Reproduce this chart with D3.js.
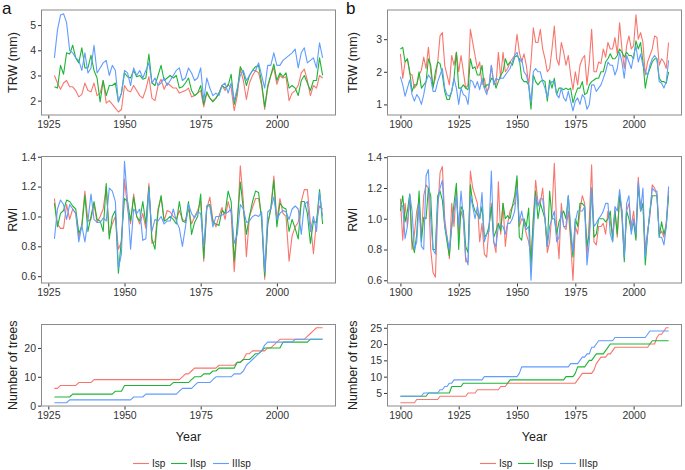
<!DOCTYPE html>
<html>
<head>
<meta charset="utf-8">
<script src="https://cdn.jsdelivr.net/npm/d3@7"></script>
<style>
  body { margin: 0; background: #fff; }
  svg { display: block; font-family: "Liberation Sans", Arial, sans-serif; }
  .tick text { fill: #333; font-size: 10.5px; }
  .tick line { stroke: #333; }
  .domain { display: none; }
</style>
</head>
<body>
<svg width="685" height="470"></svg>
<script>
// years
const yearsA = d3.range(1927, 2016);
const yearsB = d3.range(1900, 2016);

const seriesNames = ["Isp", "IIsp", "IIIsp"];
const seriesColors = ["#F8766D", "#1DB535", "#619CFF"];

// ---- site a ----
const trwA_I = [3.0, 2.7, 2.45, 2.7, 2.8, 2.55, 2.55, 2.4, 2.15, 2.25,
  2.7, 2.4, 2.35, 2.7, 2.2, 2.3, 2.8, 1.9, 2.0, 1.85,
  1.7, 1.55, 1.65, 2.6, 2.4, 2.35, 2.6, 2.4, 2.2, 2.1,
  2.45, 2.95, 2.1, 2.0, 2.6, 2.85, 2.45, 2.7, 2.6, 2.5,
  2.5, 2.3, 2.35, 2.4, 2.5, 2.15, 2.2, 2.3, 2.4, 1.75,
  2.3, 2.1, 2.0, 2.1, 2.3, 2.6, 2.4, 2.65, 2.5, 1.6,
  2.2, 3.25, 2.8, 2.05, 2.7, 3.0, 3.2, 3.1, 2.6, 1.65,
  2.5, 3.0, 3.3, 2.65, 3.0, 2.9, 2.95, 2.0, 2.3, 2.4,
  2.6, 3.1, 3.25, 2.8, 2.2, 2.6, 2.5, 3.0, 2.9];
const trwA_II = [2.55, 2.5, 3.4, 3.05, 3.9, 3.85, 4.2, 3.7, 3.5, 4.1,
  3.3, 3.3, 3.8, 3.2, 2.9, 1.95, 2.8, 2.2, 2.6, 2.6,
  2.7, 1.95, 2.3, 3.1, 2.95, 2.9, 3.2, 2.95, 3.0, 2.85,
  2.9, 3.85, 2.7, 2.6, 3.0, 3.4, 2.8, 2.9, 3.0, 2.9,
  3.0, 2.5, 2.55, 2.7, 2.9, 2.4, 2.2, 2.3, 2.6, 1.85,
  2.35, 2.1, 1.95, 2.1, 2.3, 2.6, 2.5, 2.6, 3.05, 1.85,
  2.4, 3.35, 3.1, 2.6, 3.0, 3.2, 3.35, 3.4, 2.7, 1.75,
  2.6, 3.0, 3.45, 2.8, 3.1, 2.95, 3.1, 2.5, 2.6, 2.5,
  2.2, 2.8, 3.0, 2.7, 2.4, 2.8, 2.8, 3.7, 3.0];
const trwA_III = [3.7, 4.8, 5.4, 5.45, 5.1, 4.0, 3.9, 3.7, 3.6, 3.2,
  3.9, 3.1, 3.3, 4.2, 3.1, 3.3, 3.5, 3.6, 3.0, 3.4,
  3.2, 1.95, 2.3, 3.2, 3.1, 2.6, 3.3, 3.0, 3.2, 2.9,
  3.2, 3.5, 2.7, 2.9, 2.6, 2.7, 2.9, 2.6, 2.8, 3.0,
  3.2, 3.3, 2.8, 2.9, 3.3, 3.1, 2.8, 2.9, 3.3, 2.0,
  2.9, 2.5, 2.2, 2.3, 2.2, 2.6, 2.7, 2.3, 2.7, 2.0,
  2.5, 3.0, 3.2, 2.8, 3.0, 3.2, 3.2, 3.5, 3.0, 2.5,
  3.4, 3.4, 3.9, 3.4, 3.4, 3.6, 3.7, 3.8, 3.9, 4.05,
  3.3, 3.9, 4.1, 3.5, 3.6, 3.7, 3.3, 4.3, 3.7];

const rwiA_I = [1.12, 0.95, 0.92, 0.92, 1.08, 0.98, 1.05, 1.02, 0.86, 0.95,
  1.17, 0.97, 0.98, 1.08, 0.96, 1.0, 1.05, 1.2, 0.88, 0.95,
  1.0, 0.78, 0.83, 1.25, 1.05, 0.95, 1.15, 1.0, 0.95, 1.02,
  0.92, 1.22, 0.82, 0.83, 1.05, 1.13, 0.97, 1.04, 1.03, 1.0,
  0.98, 1.04, 0.98, 0.97, 1.05, 0.95, 1.0, 1.04, 1.1, 0.7,
  1.05, 1.13, 0.98, 0.93, 1.0, 1.06, 0.98, 1.1, 1.02, 0.63,
  0.93, 1.34, 1.1, 0.73, 1.0, 1.06, 1.12, 1.12, 1.0, 0.58,
  0.95, 1.05, 1.27, 0.97, 1.12, 1.02, 1.0, 0.7, 0.87, 0.93,
  0.96, 1.1, 1.18, 1.18, 0.96, 0.75, 0.97, 1.07, 1.05];
const rwiA_II = [1.09, 0.93, 1.02, 1.04, 1.11, 1.1, 1.07, 1.05, 0.89, 0.93,
  1.14, 0.9, 1.0, 1.1, 0.98, 0.97, 0.9, 1.22, 0.85, 1.0,
  1.04, 0.62, 0.85, 1.12, 1.1, 0.97, 1.13, 1.0, 0.97, 1.1,
  0.95, 1.2, 0.85, 0.78, 1.03, 1.14, 0.97, 0.98, 1.0, 0.98,
  0.95, 1.1, 0.97, 0.96, 1.1, 0.88, 0.96, 1.0, 1.15, 0.72,
  1.07, 1.08, 0.96, 0.95, 0.94, 1.04, 1.02, 1.17, 1.1, 0.7,
  0.95, 1.23, 1.05, 0.88, 1.0, 1.1, 1.17, 1.16, 0.98, 0.6,
  0.95, 1.05, 1.24, 0.93, 1.09, 1.06, 1.05, 0.9, 0.98, 0.92,
  0.85, 1.1, 1.1, 1.02, 0.82, 0.97, 0.96, 1.18, 0.95];
const rwiA_III = [0.85, 1.05, 1.11, 1.08, 0.98, 1.08, 1.05, 1.02, 0.83, 0.94,
  0.83, 0.97, 1.15, 0.98, 0.96, 0.96, 0.99, 0.97, 1.19, 1.17,
  1.1, 0.65, 0.75, 1.37, 1.1, 0.78, 1.05, 1.02, 1.05, 0.84,
  0.85, 1.18, 0.9, 0.98, 0.97, 1.0, 0.95, 0.97, 0.97, 1.05,
  0.97, 0.92, 0.8, 0.93, 1.08, 1.02, 0.99, 1.03, 1.02, 0.8,
  1.07, 1.07, 0.93, 1.0, 1.0, 1.01, 1.02, 1.03, 1.05, 0.82,
  0.88, 1.08, 1.05, 0.96, 0.97, 1.0, 1.01, 1.0, 1.03, 0.63,
  1.03, 1.05, 1.13, 0.98, 1.02, 1.04, 1.03, 0.98, 1.05, 1.07,
  1.05, 0.88, 1.08, 1.1, 0.9, 1.0, 0.9, 1.16, 1.0];

const treesA_I = [6, 6, 7, 7, 7, 7, 7, 7, 8, 8,
  8, 8, 8, 9, 9, 9, 9, 9, 9, 9,
  9, 9, 9, 9, 9, 9, 9, 9, 9, 9,
  9, 9, 9, 9, 9, 9, 9, 9, 9, 9,
  9, 9, 10, 11, 11, 12, 13, 13, 13, 13,
  13, 13, 13, 13, 14, 14, 14, 14, 14, 14,
  15, 15, 16, 18, 18, 19, 19, 19, 19, 19,
  20, 20, 21, 22, 23, 23, 23, 23, 23, 23,
  23, 23, 23, 24, 25, 26, 27, 27, 27];
const treesA_II = [3, 3, 3, 3, 3, 3, 4, 4, 4, 4,
  4, 4, 4, 4, 4, 4, 4, 4, 4, 4,
  5, 5, 5, 7, 7, 7, 7, 7, 7, 7,
  7, 7, 7, 7, 7, 7, 7, 7, 7, 8,
  8, 8, 8, 8, 8, 9, 10, 10, 10, 11,
  11, 11, 12, 12, 13, 13, 13, 13, 13, 13,
  15, 15, 16, 16, 16, 17, 18, 18, 19, 20,
  20, 20, 20, 20, 20, 22, 22, 22, 22, 22,
  22, 22, 22, 22, 23, 23, 23, 23, 23];
const treesA_III = [1, 1, 1, 1, 1, 2, 2, 2, 2, 2,
  2, 2, 2, 2, 2, 2, 2, 2, 2, 2,
  2, 2, 2, 2, 2, 2, 3, 3, 3, 3,
  4, 4, 4, 4, 4, 4, 4, 4, 4, 4,
  4, 5, 6, 6, 6, 6, 7, 8, 8, 8,
  8, 8, 9, 10, 10, 10, 10, 10, 10, 11,
  11, 11, 12, 14, 15, 16, 17, 18, 19, 21,
  22, 22, 22, 22, 22, 22, 22, 22, 22, 23,
  23, 23, 23, 23, 23, 23, 23, 23, 23];

// ---- site b ----
const trwB_I = [2.55, 1.8, 2.3, 2.4, 1.95, 1.9, 1.5, 1.6, 1.9, 2.05,
  2.45, 2.1, 2.75, 2.0, 1.55, 1.8, 2.3, 3.1, 3.2, 2.2,
  1.9, 1.6, 2.5, 2.2, 2.6, 2.0, 2.5, 2.0, 1.5, 1.6,
  3.3, 2.9, 2.5, 2.1, 2.3, 1.6, 1.8, 1.4, 1.5, 2.2,
  1.7, 1.6, 2.6, 1.8, 2.6, 2.0, 2.1, 2.3, 2.4, 2.5,
  3.15, 2.6, 2.3, 2.55, 2.2, 1.6, 2.3, 3.35, 2.9, 2.9,
  3.3, 2.7, 2.4, 2.0, 2.1, 2.7, 3.4, 2.4, 2.2, 2.9,
  2.6, 2.2, 2.5, 1.9, 1.45, 2.0, 1.6, 2.2, 2.4, 2.5,
  1.6, 2.3, 3.3, 2.0, 2.0, 2.3, 2.25, 2.7, 2.45, 2.9,
  2.7, 2.7, 3.05, 2.55, 3.5, 2.7, 2.1, 2.8, 3.1, 2.7,
  2.8, 3.75, 3.0, 3.2, 2.9, 1.9, 2.3, 2.5, 2.7, 3.1,
  3.05, 2.2, 2.4, 2.3, 2.1, 2.9];
const trwB_II = [2.7, 2.75, 2.3, 2.4, 2.0, 1.4, 1.6, 1.6, 2.0, 1.5,
  1.6, 1.7, 2.4, 2.2, 1.5, 2.0, 2.3, 2.25, 1.9, 1.4,
  1.15, 1.15, 1.4, 1.8, 2.6, 1.5, 1.5, 1.6, 1.5, 1.45,
  2.4, 2.1, 2.15, 1.9, 1.9, 2.2, 1.5, 1.6, 1.6, 1.8,
  1.75, 1.5, 1.7, 1.9, 2.0, 2.4, 2.2, 2.3, 2.2, 2.45,
  2.5, 2.4, 1.8, 1.7, 1.7, 1.6, 0.85, 1.9, 1.7, 1.6,
  1.7, 1.75, 1.7, 1.1, 1.75, 1.5, 1.8, 1.3, 1.5, 1.5,
  1.45, 1.5, 1.45, 1.5, 1.05, 1.3, 1.5, 1.5, 1.7, 1.3,
  1.35, 1.6, 1.7, 1.75, 1.8, 1.8, 2.0, 2.0, 2.3, 2.4,
  2.55, 2.4, 2.4, 2.5, 2.7, 2.6, 2.45, 2.6, 2.5, 2.5,
  2.4, 2.95, 2.7, 2.9, 2.3, 1.5, 1.9, 2.1, 2.3, 2.4,
  2.4, 1.8, 1.7, 1.7, 1.65, 2.0];
const trwB_III = [1.85, 1.6, 1.25, 1.5, 1.75, 1.3, 1.1, 1.3, 1.2, 1.0,
  1.3, 1.7, 1.9, 1.8, 1.4, 1.4, 1.7, 1.9, 2.1, 1.5,
  1.3, 1.25, 1.4, 1.8, 1.5, 1.0, 1.5, 1.3, 1.25, 1.0,
  1.75, 1.7, 1.5, 1.7, 1.45, 1.8, 1.5, 1.3, 1.6, 2.2,
  1.6, 1.8, 1.75, 1.8, 1.8, 1.9, 2.0, 2.1, 2.3, 2.5,
  2.6, 2.3, 2.4, 2.0, 1.9, 1.6, 1.05, 2.0, 2.1, 2.0,
  2.0, 1.7, 1.5, 1.2, 1.6, 1.7, 1.7, 1.3, 1.2, 1.5,
  1.2, 1.1, 1.4, 1.1, 0.8, 1.1, 1.2, 1.0, 1.3, 1.2,
  0.85, 1.0, 1.6, 1.6, 1.4, 1.5, 1.6, 1.8, 2.0, 2.3,
  2.2, 2.2, 1.9, 2.1, 2.6, 2.3, 1.8, 2.5, 2.3, 2.1,
  2.5, 2.8, 2.3, 2.55, 2.2, 2.0, 1.9, 2.2, 2.4, 2.5,
  2.4, 1.7, 1.65, 1.5, 1.7, 2.35];

const rwiB_I = [1.13, 0.86, 1.1, 0.95, 1.15, 0.8, 0.9, 1.05, 1.12, 0.88,
  1.15, 1.22, 1.2, 0.8, 0.65, 0.62, 1.05, 1.3, 1.34, 1.0,
  0.88, 0.74, 1.1, 0.95, 1.2, 0.9, 1.05, 1.0, 0.72, 0.72,
  1.31, 1.2, 1.15, 1.1, 0.85, 0.97, 0.77, 0.75, 0.95, 1.1,
  0.85, 0.78, 1.24, 0.9, 1.1, 0.82, 0.97, 1.05, 1.08, 1.1,
  1.25, 0.95, 1.0, 0.98, 0.9, 0.85, 0.75, 1.0, 1.25, 1.1,
  1.1, 1.2, 1.0, 0.78, 0.85, 1.05, 1.36, 0.95, 0.74, 1.1,
  0.95, 0.93, 1.05, 0.85, 0.6, 0.95, 0.9, 1.05, 1.15, 1.1,
  0.75, 1.0, 1.35, 0.85, 0.83, 0.95, 0.95, 0.97, 0.9, 1.05,
  0.98, 0.9, 1.06, 0.88, 1.16, 1.0, 0.75, 1.05, 1.1, 0.95,
  1.05, 0.88, 1.27, 1.05, 1.1, 0.8, 0.92, 1.02, 1.22, 1.2,
  1.15, 0.9, 0.92, 0.88, 0.98, 1.18];
const rwiB_II = [1.05, 1.15, 0.98, 1.05, 1.16, 0.85, 0.78, 0.9, 1.18, 0.85,
  1.01, 1.0, 1.2, 1.15, 0.8, 0.8, 1.15, 1.18, 1.12, 0.95,
  0.85, 0.76, 0.95, 1.1, 1.23, 0.8, 1.08, 1.05, 0.82, 0.78,
  1.22, 1.1, 1.05, 1.03, 1.0, 1.08, 0.88, 0.9, 0.95, 1.08,
  0.88, 0.92, 0.97, 0.92, 1.1, 1.0, 1.02, 1.0, 1.08, 1.15,
  1.28, 0.88, 0.86, 1.0, 0.95, 1.07, 0.68, 1.0, 1.18, 1.0,
  1.1, 1.05, 1.0, 0.82, 1.18, 1.0, 1.0, 0.9, 0.98, 1.02,
  1.05, 1.0, 1.15, 0.9, 0.75, 1.0, 0.95, 1.1, 1.1, 1.08,
  0.82, 0.9, 1.2, 0.88, 0.9, 1.0, 1.0, 1.0, 0.98, 1.0,
  1.05, 0.85, 1.05, 0.9, 1.15, 1.05, 0.72, 1.05, 1.0, 0.92,
  0.98, 0.86, 1.22, 1.05, 1.1, 0.7, 0.9, 1.05, 1.15, 1.15,
  1.15, 0.88, 0.98, 0.9, 0.95, 1.15];
const rwiB_III = [1.1, 1.08, 0.87, 0.95, 1.16, 1.05, 0.8, 0.85, 1.1, 0.82,
  0.8, 1.28, 1.32, 1.0, 0.8, 0.77, 1.1, 1.2, 1.25, 0.95,
  0.88, 0.8, 0.95, 1.05, 1.15, 0.95, 1.18, 1.0, 0.75, 0.7,
  1.15, 1.08, 1.0, 1.08, 1.0, 1.17, 0.85, 0.9, 0.92, 1.31,
  0.85, 0.82, 0.95, 0.96, 0.95, 0.9, 0.97, 0.97, 1.0, 1.05,
  1.2, 0.98, 1.05, 0.97, 0.93, 0.95, 0.6, 0.9, 1.15, 1.08,
  1.13, 1.13, 1.0, 0.82, 0.95, 1.0, 1.05, 0.85, 0.88, 1.05,
  0.95, 0.95, 1.15, 0.95, 0.78, 0.98, 1.05, 1.05, 1.05, 1.08,
  0.7, 0.85, 1.2, 0.95, 0.97, 1.0, 1.02, 1.05, 1.1, 1.1,
  0.9, 0.85, 1.08, 1.05, 1.19, 1.05, 0.75, 1.1, 1.15, 0.9,
  1.0, 0.9, 1.24, 1.05, 1.2, 0.75, 0.9, 1.05, 1.2, 1.18,
  1.18, 0.88, 0.88, 0.83, 0.95, 1.21];

const treesB_I = [2, 2, 2, 2, 2, 2, 2, 3, 3, 3,
  3, 3, 3, 3, 3, 3, 3, 4, 4, 4,
  4, 4, 4, 4, 4, 4, 4, 4, 4, 5,
  5, 5, 5, 6, 6, 6, 6, 6, 6, 6,
  6, 6, 6, 7, 7, 7, 8, 8, 8, 8,
  8, 8, 8, 8, 8, 8, 8, 8, 8, 8,
  8, 8, 8, 8, 8, 8, 8, 8, 8, 8,
  8, 8, 8, 8, 8, 8, 9, 10, 11, 11,
  11, 11, 11, 12, 14, 15, 16, 16, 16, 17,
  17, 18, 19, 19, 19, 19, 19, 19, 19, 19,
  19, 19, 19, 19, 19, 19, 19, 20, 20, 20,
  22, 23, 23, 24, 25, 25];
const treesB_II = [4, 4, 4, 4, 4, 4, 4, 4, 4, 4,
  4, 4, 5, 5, 5, 5, 5, 5, 5, 5,
  5, 5, 7, 7, 7, 7, 7, 8, 8, 8,
  8, 8, 8, 8, 8, 8, 8, 8, 8, 8,
  8, 8, 8, 8, 8, 8, 8, 9, 9, 9,
  9, 9, 9, 9, 9, 9, 9, 9, 9, 9,
  9, 9, 9, 9, 9, 9, 9, 9, 9, 9,
  9, 10, 10, 10, 10, 11, 13, 13, 13, 13,
  14, 15, 15, 16, 17, 17, 17, 17, 18, 19,
  20, 20, 20, 20, 20, 20, 20, 20, 20, 20,
  20, 20, 20, 20, 20, 20, 20, 20, 21, 21,
  21, 21, 21, 21, 21, 21];
const treesB_III = [4, 4, 4, 4, 4, 4, 4, 4, 4, 4,
  5, 5, 5, 5, 5, 5, 5, 6, 6, 7,
  7, 8, 8, 9, 9, 9, 9, 9, 9, 9,
  9, 9, 9, 9, 9, 9, 10, 10, 10, 10,
  10, 10, 10, 10, 10, 10, 10, 10, 10, 10,
  10, 11, 13, 13, 13, 13, 13, 13, 13, 13,
  13, 13, 13, 13, 13, 13, 13, 13, 13, 13,
  13, 13, 13, 14, 14, 14, 14, 15, 16, 16,
  17, 17, 19, 19, 20, 21, 21, 21, 21, 21,
  21, 21, 22, 22, 22, 22, 22, 22, 22, 22,
  22, 22, 22, 22, 22, 22, 23, 24, 24, 24,
  24, 24, 24, 24, 24, 24];

const ticksA_x = [1925, 1950, 1975, 2000];
const ticksB_x = [1900, 1925, 1950, 1975, 2000];

// layout
const svg = d3.select("svg");
const cols = {
  a: { x0: 41, x1: 336, xDomain: [1922.6, 2019.4], years: yearsA, xTicks: ticksA_x, titleX: 13, labelX: 2, legendX: 133 },
  b: { x0: 387, x1: 682, xDomain: [1894.25, 2020.75], years: yearsB, xTicks: ticksB_x, titleX: 353, labelX: 346, legendX: 480 }
};
const rows = [
  { y0: 9.5, y1: 115.5, title: "TRW (mm)" },
  { y0: 156, y1: 283.5, title: "RWI" },
  { y0: 324, y1: 406.5, title: "Number of trees" }
];

const panels = [
  { col: "a", row: 0, data: [trwA_I, trwA_II, trwA_III], yDomain: [1.41, 5.62], yTicks: [2, 3, 4, 5], fmt: d3.format("d") },
  { col: "a", row: 1, data: [rwiA_I, rwiA_II, rwiA_III], yDomain: [0.551, 1.405], yTicks: [0.6, 0.8, 1.0, 1.2, 1.4], fmt: d3.format(".1f") },
  { col: "a", row: 2, data: [treesA_I, treesA_II, treesA_III], yDomain: [-0.3, 28.3], yTicks: [0, 10, 20], fmt: d3.format("d") },
  { col: "b", row: 0, data: [trwB_I, trwB_II, trwB_III], yDomain: [0.66, 3.91], yTicks: [1, 2, 3], fmt: d3.format("d") },
  { col: "b", row: 1, data: [rwiB_I, rwiB_II, rwiB_III], yDomain: [0.579, 1.408], yTicks: [0.6, 0.8, 1.0, 1.2, 1.4], fmt: d3.format(".1f") },
  { col: "b", row: 2, data: [treesB_I, treesB_II, treesB_III], yDomain: [0.85, 26.15], yTicks: [5, 10, 15, 20, 25], fmt: d3.format("d") }
];

panels.forEach(p => {
  const c = cols[p.col];
  const r = rows[p.row];
  const xScale = d3.scaleLinear().domain(c.xDomain).range([c.x0, c.x1]);
  const yScale = d3.scaleLinear().domain(p.yDomain).range([r.y1, r.y0]);

  const g = svg.append("g");

  g.append("rect")
    .attr("x", c.x0 + 0.5)
    .attr("y", r.y0 + 0.5)
    .attr("width", c.x1 - c.x0 - 1)
    .attr("height", r.y1 - r.y0 - 1)
    .attr("fill", "none")
    .attr("stroke", "#8a8a8a")
    .attr("stroke-width", 1);

  g.append("g")
    .attr("transform", `translate(0, ${r.y1})`)
    .call(d3.axisBottom(xScale).tickValues(c.xTicks).tickFormat(d3.format("d")).tickSize(3).tickPadding(2));

  g.append("g")
    .attr("transform", `translate(${c.x0}, 0)`)
    .call(d3.axisLeft(yScale).tickValues(p.yTicks).tickFormat(p.fmt).tickSize(3).tickPadding(2));

  const line = d3.line()
    .x((d, i) => xScale(c.years[i]))
    .y(d => yScale(d));

  p.data.forEach((vals, k) => {
    g.append("path")
      .datum(vals)
      .attr("fill", "none")
      .attr("stroke", seriesColors[k])
      .attr("stroke-width", 1.1)
      .attr("stroke-linejoin", "round")
      .attr("d", line);
  });

  // y axis title
  g.append("text")
    .attr("transform", `translate(${c.titleX}, ${(r.y0 + r.y1) / 2}) rotate(-90)`)
    .attr("text-anchor", "middle")
    .attr("dominant-baseline", "central")
    .attr("font-size", 12.5)
    .attr("fill", "#222")
    .text(r.title);
});

// panel letters
svg.append("text").attr("x", cols.a.labelX).attr("y", 14).attr("font-size", 17).attr("fill", "#111").text("a");
svg.append("text").attr("x", cols.b.labelX).attr("y", 14).attr("font-size", 17).attr("fill", "#111").text("b");

// x axis titles and legends
const legendOffsets = [0, 38, 80];
Object.values(cols).forEach(c => {
  svg.append("text")
    .attr("x", (c.x0 + c.x1) / 2)
    .attr("y", 441)
    .attr("text-anchor", "middle")
    .attr("font-size", 12.5)
    .attr("fill", "#222")
    .text("Year");

  const leg = svg.append("g")
    .attr("transform", `translate(${c.legendX}, 463.5)`);
  seriesNames.forEach((name, k) => {
    const lx = legendOffsets[k];
    leg.append("line")
      .attr("x1", lx).attr("x2", lx + 16)
      .attr("y1", 0).attr("y2", 0)
      .attr("stroke", seriesColors[k])
      .attr("stroke-width", 1.1);
    leg.append("text")
      .attr("x", lx + 19)
      .attr("y", 3.5)
      .attr("font-size", 10)
      .attr("fill", "#222")
      .text(name);
  });
});
</script>
</body>
</html>
